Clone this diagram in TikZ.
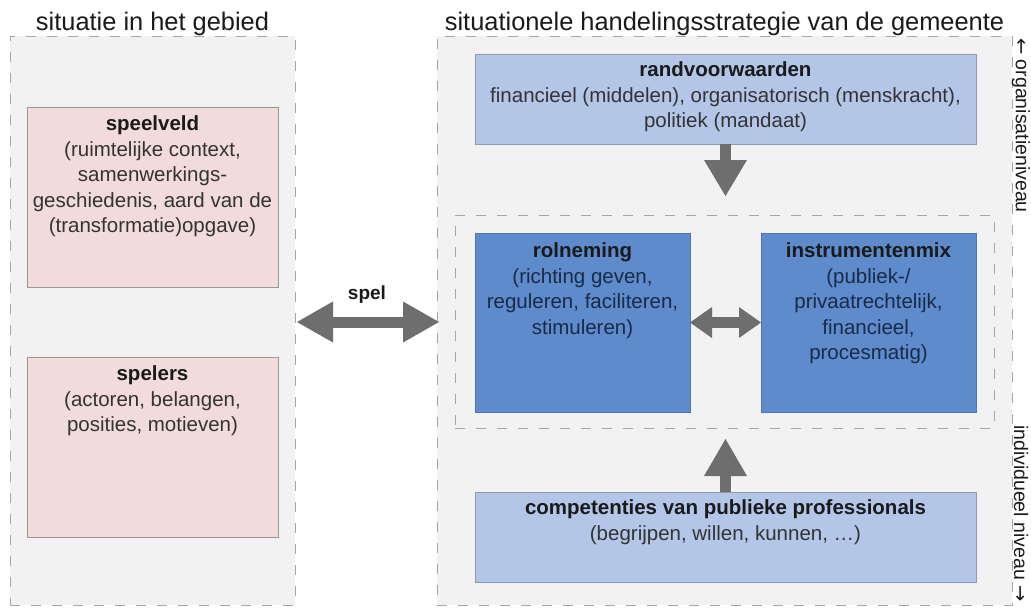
\documentclass[tikz,border=0pt]{standalone}
\usepackage{fontspec}
\setmainfont{Liberation Sans}
\newfontfamily\arrowfont{DejaVu Sans}
\usetikzlibrary{arrows.meta,calc}
\definecolor{panelfill}{HTML}{F2F2F2}
\definecolor{dashc}{HTML}{A6A6A6}
\definecolor{pinkfill}{HTML}{F2DCDB}
\definecolor{pinkline}{HTML}{9E9595}
\definecolor{lightblue}{HTML}{B4C6E7}
\definecolor{lightline}{HTML}{8E9BB3}
\definecolor{darkblue}{HTML}{5D8BCB}
\definecolor{darkline}{HTML}{4E78B4}
\definecolor{arrowc}{HTML}{6E6E6E}
\definecolor{bodytext}{HTML}{333333}
\definecolor{navytext}{HTML}{1B2A47}
\definecolor{titletext}{HTML}{1A1A1A}
\tikzset{
  panel/.style={draw=dashc, fill=panelfill, line width=1pt, dash pattern=on 10pt off 11pt, anchor=north west, inner sep=0pt, outer sep=0pt},
  innerframe/.style={draw=dashc, line width=1pt, dash pattern=on 10pt off 11pt, anchor=north west, inner sep=0pt, outer sep=0pt},
  pinkbox/.style={draw=pinkline, fill=pinkfill, line width=1pt, anchor=north west, inner sep=0pt, outer sep=0pt},
  lightbox/.style={draw=lightline, fill=lightblue, line width=0.8pt, anchor=north west, inner sep=0pt, outer sep=0pt},
  darkbox/.style={draw=darkline, fill=darkblue, line width=0.8pt, anchor=north west, inner sep=0pt, outer sep=0pt},
  boxtext/.style={anchor=north, align=center, inner sep=0pt, text=bodytext, font=\fontsize{20.5}{25.6}\selectfont},
  navy/.style={boxtext, text=navytext},
  heading/.style={anchor=base, inner sep=0pt, text=titletext, font=\fontsize{25.4}{30}\selectfont},
  sidetext/.style={inner sep=0pt, rotate=-90, text=titletext, font=\fontsize{19.5}{23}\selectfont},
  bigarrow/.style={draw=arrowc, line width=11pt},
}
\newcommand{\tb}[1]{\textbf{\color{titletext}#1}}
\begin{document}
\begin{tikzpicture}[x=1pt,y=-1pt]
\useasboundingbox (0,0) rectangle (1031,608);
\fill[white] (0,0) rectangle (1031,608);

% panels
\node[panel, minimum width=285pt, minimum height=569pt] (lpanel) at (10,36) {};
\node[panel, minimum width=575pt, minimum height=569pt] (rpanel) at (437,36) {};
\node[innerframe, minimum width=539pt, minimum height=213pt] (inner) at (455,215) {};

% headings
\node[heading] (lhead) at (152.5,30) {situatie in het gebied};
\node[heading] (rhead) at (724.5,30) {situationele handelingsstrategie van de gemeente};

% left boxes
\node[pinkbox, minimum width=251pt, minimum height=180pt] (speelveld) at (27,107) {};
\node[boxtext] (speelveldtxt) at ([yshift=-8.5pt]speelveld.north) {\tb{speelveld}\\(ruimtelijke context,\\samenwerkings-\\geschiedenis, aard van de\\(transformatie)opgave)};
\node[pinkbox, minimum width=251pt, minimum height=180pt] (spelers) at (27,357) {};
\node[boxtext] (spelerstxt) at ([yshift=-8.5pt]spelers.north) {\tb{spelers}\\(actoren, belangen,\\posities, motieven)};

% right boxes
\node[lightbox, minimum width=501pt, minimum height=90pt] (rand) at (475,54) {};
\node[boxtext] (randtxt) at ([yshift=-7.5pt]rand.north) {\tb{randvoorwaarden}\\financieel (middelen), organisatorisch (menskracht),\\politiek (mandaat)};
\node[darkbox, minimum width=215pt, minimum height=179pt] (rol) at (475,233) {};
\node[navy] (roltxt) at ([yshift=-9.5pt]rol.north) {\tb{rolneming}\\(richting geven,\\reguleren, faciliteren,\\stimuleren)};
\node[darkbox, minimum width=215pt, minimum height=179pt] (instr) at (761,233) {};
\node[navy] (instrtxt) at ([yshift=-9.5pt]instr.north) {\tb{instrumentenmix}\\(publiek-/\\privaatrechtelijk,\\financieel,\\procesmatig)};
\node[lightbox, minimum width=501pt, minimum height=90pt] (comp) at (475,492) {};
\node[boxtext] (comptxt) at ([yshift=-7.5pt]comp.north) {\tb{competenties van publieke professionals}\\(begrijpen, willen, kunnen, …)};

% side labels
\node[sidetext, anchor=west] (orgniv) at (1021,38) {{\arrowfont ←} organisatieniveau};
\node[sidetext, anchor=east] (indniv) at (1021,602) {individueel niveau {\arrowfont →}};

% arrows
\coordinate (downtip) at ([yshift=19pt]inner.north -| rand.south);
\coordinate (uptip) at ([yshift=-11pt]inner.south -| comp.north);
\draw[bigarrow, -{Triangle[width=43pt,length=36pt,line width=0pt]}] (rand.south) -- (downtip);
\draw[bigarrow, -{Triangle[width=43pt,length=37pt,line width=0pt]}] (comp.north) -- (uptip);
\draw[bigarrow, {Triangle[width=31pt,length=22pt,line width=0pt]}-{Triangle[width=31pt,length=22pt,line width=0pt]}] (rol.east) -- (instr.west);
\coordinate (spelL) at ([xshift=2pt,yshift=-1.5pt]lpanel.east);
\coordinate (spelR) at ([xshift=2pt,yshift=-1.5pt]rpanel.west);
\draw[bigarrow, {Triangle[width=41pt,length=36pt,line width=0pt]}-{Triangle[width=41pt,length=36pt,line width=0pt]}] (spelL) -- (spelR);
\node[inner sep=0pt, text=titletext, font=\bfseries\fontsize{19}{22}\selectfont] (spel) at (367,295) {spel};
\end{tikzpicture}
\end{document}
